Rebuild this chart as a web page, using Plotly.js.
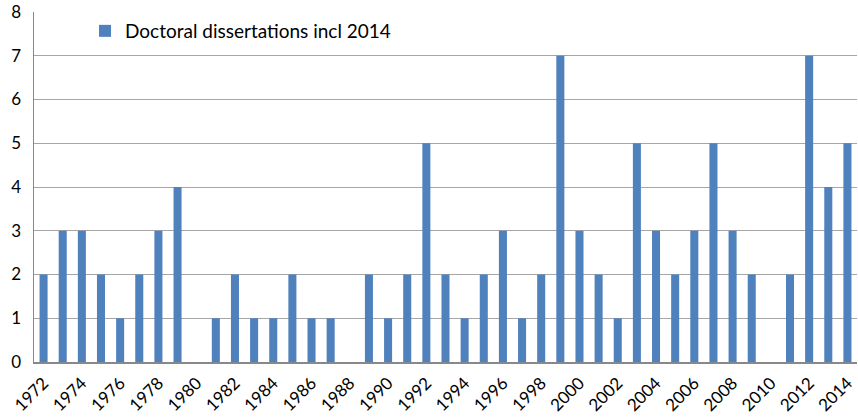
<!DOCTYPE html>
<html>
<head>
<meta charset="utf-8">
<script src="https://cdn.plot.ly/plotly-3.0.1.min.js"></script>
<style>html,body{margin:0;padding:0;background:#fff;}#chart{width:858px;height:419px;}</style>
</head>
<body>
<div id="chart"></div>
<script>
const years = ["1972","1973","1974","1975","1976","1977","1978","1979","1980","1981","1982","1983","1984","1985","1986","1987","1988","1989","1990","1991","1992","1993","1994","1995","1996","1997","1998","1999","2000","2001","2002","2003","2004","2005","2006","2007","2008","2009","2010","2011","2012","2013","2014"];
const dissertations = [2,3,3,2,1,2,3,4,0,1,2,1,1,2,1,1,0,2,1,2,5,2,1,2,3,1,2,7,3,2,1,5,3,2,3,5,3,2,0,2,7,4,5];
const tickYears = years.filter((y, i) => i % 2 === 0);
const seriesName = "Doctoral dissertations incl 2014";

Plotly.newPlot("chart", [{
  type: "bar",
  x: years,
  y: dissertations,
  name: seriesName,
  showlegend: true,
  marker: {color: "#4F81BD", line: {width: 0}}
}], {
  width: 858, height: 419,
  margin: {l: 34, r: 1, t: 12, b: 57},
  paper_bgcolor: "#fff", plot_bgcolor: "#fff",
  font: {family: "Lato, 'Open Sans', sans-serif", size: 16, color: "#000"},
  bargap: 0.58,
  showlegend: true,
  legend: {x: 0.062, y: 1.0, xanchor: "left", yanchor: "top", bgcolor: "rgba(0,0,0,0)", font: {size: 19}},
  xaxis: {
    type: "category",
    tickmode: "array", tickvals: tickYears, ticktext: tickYears,
    tickangle: -45, ticks: "", showgrid: false,
    showline: true, linecolor: "#888", linewidth: 1.5,
    tickfont: {size: 17}, ticklabelstandoff: 3
  },
  yaxis: {
    range: [0, 8], dtick: 1, ticks: "",
    showgrid: true, gridcolor: "#A6A6A6", gridwidth: 1,
    showline: true, linecolor: "#888", linewidth: 1.5,
    zeroline: false, tickfont: {size: 17}, ticklabelstandoff: 8
  }
}, {displayModeBar: false, staticPlot: true});
</script>
</body>
</html>
